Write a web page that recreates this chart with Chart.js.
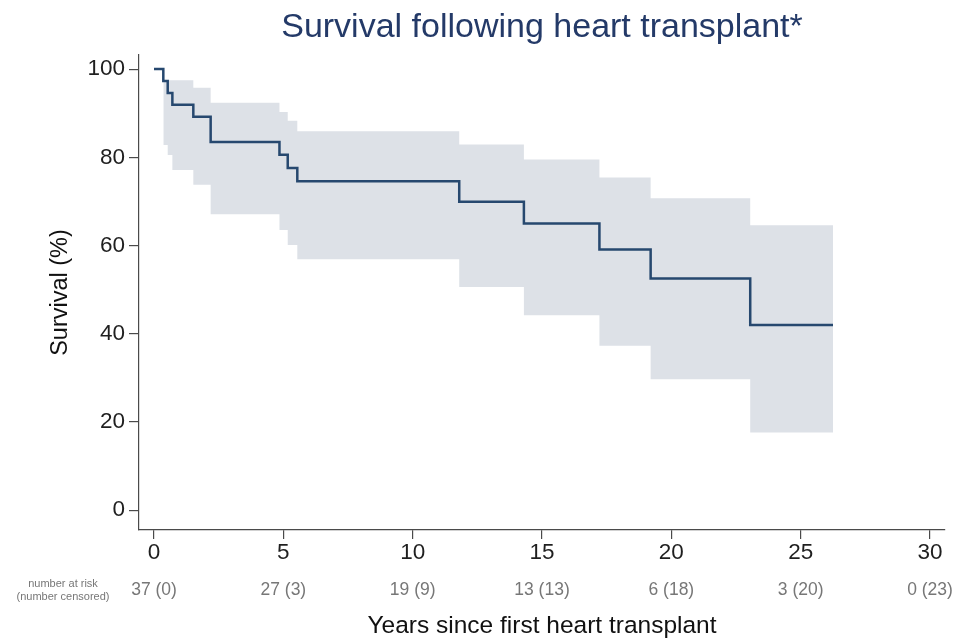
<!DOCTYPE html>
<html>
<head>
<meta charset="utf-8">
<script src="https://cdn.jsdelivr.net/npm/chart.js@4.4.0/dist/chart.umd.min.js"></script>
<style>
  body { margin: 0; background: #fff; }
  #wrap { width: 969px; height: 641px; }
</style>
</head>
<body>
<div id="wrap"><canvas id="graf" width="969" height="641"></canvas></div>
<script>
// Kaplan-Meier steps
const years    = [0, 0.36, 0.53, 0.71, 1.52, 2.19, 4.85, 5.17, 5.54, 11.8, 14.3, 17.22, 19.2, 23.05, 26.25];
const survival = [100, 97.3, 94.6, 91.9, 89.2, 83.5, 80.6, 77.6, 74.6, 69.9, 65.0, 59.1, 52.5, 42.0, 42.0];
const upperCI  = [null, 97.5, 97.5, 97.5, 95.8, 92.4, 90.3, 88.3, 85.9, 82.9, 79.5, 75.4, 70.7, 64.6, 64.6];
const lowerCI  = [null, 82.8, 80.5, 77.1, 73.8, 67.1, 63.5, 60.1, 56.9, 50.6, 44.2, 37.3, 29.7, 17.6, 17.6];

const xTicks = [0, 5, 10, 15, 20, 25, 30];
const yTicks = [0, 20, 40, 60, 80, 100];
const atRisk   = [37, 27, 19, 13, 6, 3, 0];
const censored = [0, 3, 9, 13, 18, 20, 23];

const chartTitle = 'Survival following heart transplant*';
const font = '"Liberation Sans", Arial, sans-serif';

const pts = (ys) => years.map((x, i) => ({x: x, y: ys[i]})).filter(p => p.y !== null);

const extras = {
  id: 'extras',
  afterDraw(chart) {
    const ctx = chart.ctx;
    const area = chart.chartArea;
    const x = chart.scales.x;
    ctx.save();
    ctx.textAlign = 'center';
    ctx.textBaseline = 'middle';
    ctx.fillStyle = '#243a68';
    ctx.font = '34px ' + font;
    ctx.fillText(chartTitle, (area.left + area.right) / 2, 28);

    ctx.fillStyle = '#777';
    ctx.font = '11px ' + font;
    ctx.fillText('number at risk', 63, 584);
    ctx.fillText('(number censored)', 63, 597);

    ctx.font = '17.5px ' + font;
    xTicks.forEach((t, i) => {
      ctx.fillText(atRisk[i] + ' (' + censored[i] + ')', x.getPixelForValue(t), 590);
    });
    ctx.restore();
  }
};

const axisCol = '#4a4a4a';

new Chart(document.querySelector('#graf').getContext('2d'), {
  type: 'line',
  data: {
    datasets: [
      {
        label: 'Survival',
        data: pts(survival),
        stepped: true,
        borderColor: '#26486f',
        borderWidth: 2.5,
        pointRadius: 0,
        fill: false
      },
      {
        label: 'upper',
        data: pts(upperCI),
        stepped: true,
        borderWidth: 0,
        borderColor: 'rgba(0,0,0,0)',
        backgroundColor: '#dde1e7',
        pointRadius: 0,
        fill: '+1'
      },
      {
        label: 'lower',
        data: pts(lowerCI),
        stepped: true,
        borderWidth: 0,
        borderColor: 'rgba(0,0,0,0)',
        pointRadius: 0,
        fill: false
      }
    ]
  },
  options: {
    responsive: false,
    animation: false,
    layout: { padding: { top: 55, right: 24, left: 0, bottom: 0 } },
    plugins: { legend: { display: false }, tooltip: { enabled: false }, title: { display: false } },
    scales: {
      x: {
        type: 'linear',
        min: -0.58,
        max: 30.58,
        afterBuildTicks: (s) => { s.ticks = xTicks.map(v => ({value: v})); },
        afterFit: (s) => { s.height = 111; },
        ticks: { color: '#1f1f1f', font: { family: font, size: 22.5 }, padding: 0, maxRotation: 0 },
        grid: { drawOnChartArea: false, drawTicks: true, tickLength: 9, color: axisCol, lineWidth: 1.2 },
        border: { display: true, color: axisCol, width: 1.2 },
        title: { display: true, text: 'Years since first heart transplant', color: '#111',
                 font: { family: font, size: 24.5 }, padding: { top: 0, bottom: 0 } }
      },
      y: {
        type: 'linear',
        min: -4.5,
        max: 103.2,
        afterBuildTicks: (s) => { s.ticks = yTicks.map(v => ({value: v})); },
        afterFit: (s) => { s.width = 139; },
        ticks: { color: '#1f1f1f', font: { family: font, size: 22.5 }, padding: 4 },
        grid: { drawOnChartArea: false, drawTicks: true, tickLength: 10, color: axisCol, lineWidth: 1.2 },
        border: { display: true, color: axisCol, width: 1.2 },
        title: { display: true, text: 'Survival (%)', color: '#111',
                 font: { family: font, size: 23.5 }, padding: { top: 46, bottom: 0 } }
      }
    }
  },
  plugins: [extras]
});
</script>
</body>
</html>
